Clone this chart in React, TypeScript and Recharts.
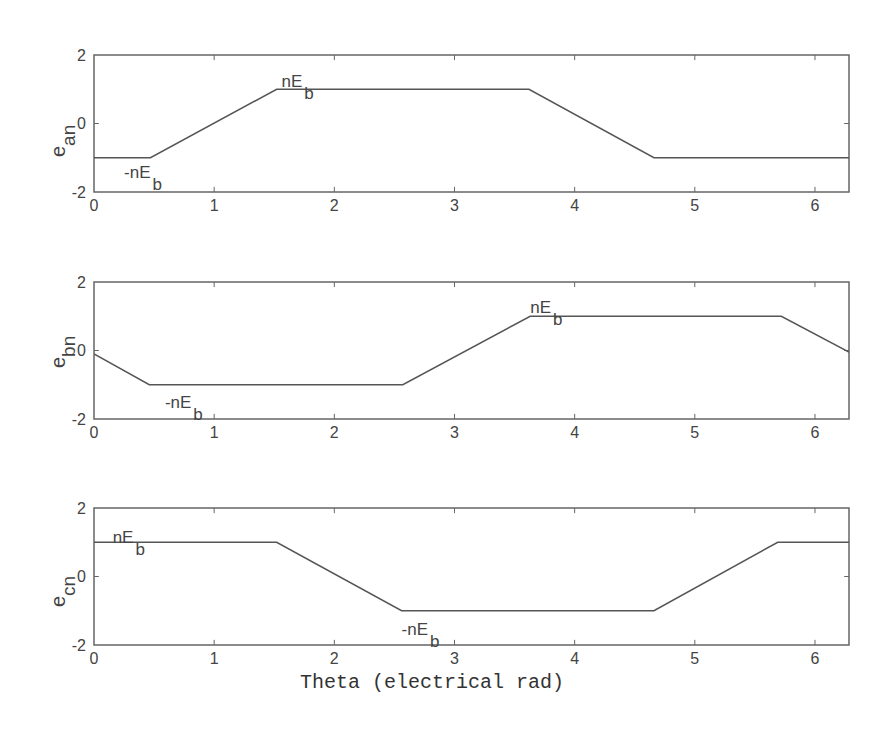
import React from "react";
import {
  LineChart,
  Line,
  XAxis,
  YAxis,
  ReferenceArea,
  ReferenceLine,
  ReferenceDot,
} from "recharts";

// theta axis (electrical rad)
const THETA_MAX = 6.2832;
const X_TICKS = [0, 1, 2, 3, 4, 5, 6];
const Y_TICKS = [-2, 0, 2];

// phase a
const anTheta = [0, 0.47, 1.52, 3.62, 4.66, THETA_MAX];
const anValues = [-1, -1, 1, 1, -1, -1];

// phase b
const bnTheta = [0, 0.46, 2.57, 3.63, 5.72, THETA_MAX];
const bnValues = [-0.1, -1, -1, 1, 1, -0.05];

// phase c
const cnTheta = [0, 1.52, 2.56, 4.66, 5.69, THETA_MAX];
const cnValues = [1, 1, -1, -1, 1, 1];

// annotations (data coords of text baseline start)
const anNotes = [
  { x: 1.56, y: 1.07, text: "nE", sub: "b" },
  { x: 0.25, y: -1.59, text: "-nE", sub: "b" },
];
const bnNotes = [
  { x: 0.59, y: -1.68, text: "-nE", sub: "b" },
  { x: 3.63, y: 1.09, text: "nE", sub: "b" },
];
const cnNotes = [
  { x: 0.155, y: 0.98, text: "nE", sub: "b" },
  { x: 2.56, y: -1.71, text: "-nE", sub: "b" },
];

const INK = "#444";
const FRAME = "#666";
const SANS = "'Liberation Sans', Arial, sans-serif";

type Note = { x: number; y: number; text: string; sub: string };

type PanelProps = {
  top: number;
  sub: string;
  theta: number[];
  values: number[];
  notes: Note[];
  labelStart: number;
};

function Panel({ top, sub, theta, values, notes, labelStart }: PanelProps) {
  const data = theta.map((t, i) => ({ theta: t, e: values[i] }));
  const tickStyle = { fontSize: 16, fill: INK, fontFamily: SANS };

  const renderYLabel = (props: any) => {
    const vb = props.viewBox || { x: 64, y: 55 };
    return (
      <text
        transform={`translate(${vb.x + 1}, ${vb.y + labelStart}) rotate(-90)`}
        fill={INK}
        fontFamily={SANS}
        fontSize={20}
      >
        e
        <tspan dy={10} fontSize={19}>
          {sub}
        </tspan>
      </text>
    );
  };

  const renderNote = (n: Note) => (props: any) => {
    const vb = props.viewBox;
    if (!vb) return null;
    const cx = vb.x + vb.width / 2;
    const cy = vb.y + vb.height / 2;
    return (
      <text x={cx} y={cy} fill={INK} fontFamily={SANS} fontSize={17}>
        {n.text}
        <tspan dx={2} dy={12}>
          {n.sub}
        </tspan>
      </text>
    );
  };

  return (
    <div style={{ position: "absolute", left: 0, top }}>
      <LineChart
        width={878}
        height={225}
        data={data}
        margin={{ top: 55, right: 29, bottom: 3, left: 64 }}
      >
        <XAxis
          dataKey="theta"
          type="number"
          domain={[0, THETA_MAX]}
          ticks={X_TICKS}
          allowDataOverflow
          axisLine={false}
          tickLine={false}
          height={30}
          tick={tickStyle}
        />
        <YAxis
          type="number"
          domain={[-2, 2]}
          ticks={Y_TICKS}
          width={30}
          axisLine={false}
          tickLine={false}
          tick={tickStyle}
          label={renderYLabel}
        />
        <ReferenceArea
          x1={0}
          x2={THETA_MAX}
          y1={-2}
          y2={2}
          fill="none"
          stroke={FRAME}
          strokeWidth={1.5}
        />
        {X_TICKS.filter((t) => t > 0).map((t) => (
          <ReferenceLine
            key={"xb" + t}
            segment={[
              { x: t, y: -2 },
              { x: t, y: -1.85 },
            ]}
            stroke={FRAME}
          />
        ))}
        {X_TICKS.filter((t) => t > 0).map((t) => (
          <ReferenceLine
            key={"xt" + t}
            segment={[
              { x: t, y: 2 },
              { x: t, y: 1.85 },
            ]}
            stroke={FRAME}
          />
        ))}
        <ReferenceLine
          segment={[
            { x: 0, y: 0 },
            { x: 0.04, y: 0 },
          ]}
          stroke={FRAME}
        />
        <ReferenceLine
          segment={[
            { x: THETA_MAX - 0.04, y: 0 },
            { x: THETA_MAX, y: 0 },
          ]}
          stroke={FRAME}
        />
        <Line
          type="linear"
          dataKey="e"
          stroke="#555"
          strokeWidth={1.5}
          dot={false}
          isAnimationActive={false}
        />
        {notes.map((n, i) => (
          <ReferenceDot
            key={i}
            x={n.x}
            y={n.y}
            r={1}
            fill="none"
            stroke="none"
            label={renderNote(n)}
          />
        ))}
      </LineChart>
    </div>
  );
}

export default function App() {
  return (
    <div
      style={{
        position: "absolute",
        left: 0,
        top: 0,
        width: 878,
        height: 751,
        background: "#fff",
      }}
    >
      <Panel top={0} sub="an" theta={anTheta} values={anValues} notes={anNotes} labelStart={102} />
      <Panel top={227} sub="bn" theta={bnTheta} values={bnValues} notes={bnNotes} labelStart={86} />
      <Panel top={453} sub="cn" theta={cnTheta} values={cnValues} notes={cnNotes} labelStart={99} />
      <div
        style={{
          position: "absolute",
          left: 300,
          top: 672,
          fontFamily: "'Liberation Mono', 'DejaVu Sans Mono', monospace",
          fontSize: 20,
          lineHeight: "22px",
          color: "#333",
          whiteSpace: "pre",
        }}
      >
        Theta (electrical rad)
      </div>
    </div>
  );
}
